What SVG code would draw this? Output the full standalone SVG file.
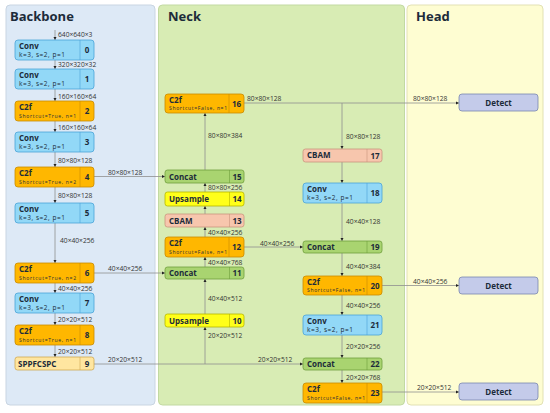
<svg xmlns="http://www.w3.org/2000/svg" width="550" height="413" viewBox="0 0 550 413">
<style>
text{font-family:"Open Sans","Noto Sans","DejaVu Sans",sans-serif;fill:#1c2b3a}
.title{font-size:13px;font-weight:700}
.nm{font-size:8px;font-weight:700}
.sub{font-size:5px}
.sub2{font-size:6.5px}
.idx{font-size:8px;font-weight:700;text-anchor:middle}
.lbl{font-size:6.7px;fill:#333}
.conv{fill:#92d8f7;stroke:#4aa3d8;stroke-width:0.8}
.c2f{fill:#ffb700;stroke:#c98a00;stroke-width:0.8}
.spp{fill:#ffe6a0;stroke:#d0a850;stroke-width:0.8}
.cat{fill:#a9d470;stroke:#6f9e3c;stroke-width:0.8}
.up{fill:#ffff1a;stroke:#b5b500;stroke-width:0.8}
.cbam{fill:#f7c6ad;stroke:#c9957e;stroke-width:0.8}
.det{fill:#c4cbea;stroke:#7a86b0;stroke-width:0.8}
#connectors path{fill:none;stroke:#8f8f8f;stroke-width:0.8;marker-end:url(#ah)}
</style>
<defs>
<marker id="ah" viewBox="0 0 6 6" refX="6" refY="3" markerWidth="3.2" markerHeight="3.2" orient="auto" markerUnits="userSpaceOnUse">
<path d="M0,0 L6,3 L0,6 z" fill="#222"/>
</marker>
</defs>

<g id="panels">
<rect x="6" y="5" width="149" height="400" rx="4" fill="#dde9f6" stroke="#c9d5e2"/>
<text class="title" x="10" y="21">Backbone</text>
<rect x="158.5" y="5" width="246" height="400" rx="4" fill="#d8ecb4" stroke="#c2d9a2"/>
<text class="title" x="168" y="21">Neck</text>
<rect x="407" y="5" width="136" height="400" rx="4" fill="#fefdd2" stroke="#e2e1b4"/>
<text class="title" x="416" y="21">Head</text>
</g>

<g id="connectors">
<path d="M55,30 V40"/>
<path d="M55,60 V69"/>
<path d="M55,89 V101"/>
<path d="M55,121 V132"/>
<path d="M55,152 V167"/>
<path d="M55,187 V203"/>
<path d="M55,223 V263"/>
<path d="M55,283 V293"/>
<path d="M55,313 V325"/>
<path d="M55,345 V357"/>
<path d="M94,176.5 H165"/>
<path d="M94,273 H165"/>
<path d="M94,364 H303"/>
<path d="M205,364 V327"/>
<path d="M205,314 V279"/>
<path d="M205,267 V257"/>
<path d="M205,237 V227"/>
<path d="M205,214 V206"/>
<path d="M205,192 V183"/>
<path d="M205,170 V113"/>
<path d="M244,103 H459"/>
<path d="M342,103 V149"/>
<path d="M342,162 V183"/>
<path d="M342,203 V241"/>
<path d="M244,247 H303"/>
<path d="M342,253 V276"/>
<path d="M382,285.5 H459"/>
<path d="M342,295 V315"/>
<path d="M342,335 V358"/>
<path d="M342,370 V383"/>
<path d="M382,392 H459"/>
</g>

<g id="labels">
<text class="lbl" x="58" y="37">640×640×3</text>
<text class="lbl" x="58" y="67">320×320×32</text>
<text class="lbl" x="58" y="99">160×160×64</text>
<text class="lbl" x="58" y="130">160×160×64</text>
<text class="lbl" x="58" y="163">80×80×128</text>
<text class="lbl" x="58" y="198">80×80×128</text>
<text class="lbl" x="60" y="243">40×40×256</text>
<text class="lbl" x="58" y="291">40×40×256</text>
<text class="lbl" x="58" y="322">20×20×512</text>
<text class="lbl" x="58" y="354">20×20×512</text>
<text class="lbl" x="108" y="174.5">80×80×128</text>
<text class="lbl" x="108" y="271">40×40×256</text>
<text class="lbl" x="108" y="362">20×20×512</text>
<text class="lbl" x="258" y="362">20×20×512</text>
<text class="lbl" x="208" y="138">80×80×384</text>
<text class="lbl" x="208" y="190">80×80×256</text>
<text class="lbl" x="208" y="235">40×40×256</text>
<text class="lbl" x="208" y="265">40×40×768</text>
<text class="lbl" x="208" y="301">40×40×512</text>
<text class="lbl" x="208" y="338">20×20×512</text>
<text class="lbl" x="247" y="101">80×80×128</text>
<text class="lbl" x="260" y="245.5">40×40×256</text>
<text class="lbl" x="346" y="139">80×80×128</text>
<text class="lbl" x="346" y="224">40×40×128</text>
<text class="lbl" x="346" y="269">40×40×384</text>
<text class="lbl" x="346" y="308">40×40×256</text>
<text class="lbl" x="346" y="349">20×20×256</text>
<text class="lbl" x="346" y="380">20×20×768</text>
<text class="lbl" x="413" y="101">80×80×128</text>
<text class="lbl" x="413" y="284">40×40×256</text>
<text class="lbl" x="417" y="390">20×20×512</text>
</g>

<!-- Backbone -->
<g id="n0"><rect class="conv" x="15" y="40" width="79" height="20" rx="3"/><line x1="80" y1="40" x2="80" y2="60" stroke="#4aa3d8" stroke-width="0.6"/><text class="nm" x="19" y="49">Conv</text><text class="sub2" x="19" y="57" textLength="46">k=3, s=2, p=1</text><text class="idx" x="87" y="53">0</text></g>
<g id="n1"><rect class="conv" x="15" y="69" width="79" height="20" rx="3"/><line x1="80" y1="69" x2="80" y2="89" stroke="#4aa3d8" stroke-width="0.6"/><text class="nm" x="19" y="78">Conv</text><text class="sub2" x="19" y="86" textLength="46">k=3, s=2, p=1</text><text class="idx" x="87" y="82">1</text></g>
<g id="n2"><rect class="c2f" x="15" y="101" width="79" height="20" rx="3"/><line x1="80" y1="101" x2="80" y2="121" stroke="#c98a00" stroke-width="0.6"/><text class="nm" x="19" y="110">C2f</text><text class="sub" x="19" y="118" textLength="57">Shortcut=True, n=1</text><text class="idx" x="87" y="114">2</text></g>
<g id="n3"><rect class="conv" x="15" y="132" width="79" height="20" rx="3"/><line x1="80" y1="132" x2="80" y2="152" stroke="#4aa3d8" stroke-width="0.6"/><text class="nm" x="19" y="141">Conv</text><text class="sub2" x="19" y="149" textLength="46">k=3, s=2, p=1</text><text class="idx" x="87" y="145">3</text></g>
<g id="n4"><rect class="c2f" x="15" y="167" width="79" height="20" rx="3"/><line x1="80" y1="167" x2="80" y2="187" stroke="#c98a00" stroke-width="0.6"/><text class="nm" x="19" y="176">C2f</text><text class="sub" x="19" y="184" textLength="57">Shortcut=True, n=2</text><text class="idx" x="87" y="180">4</text></g>
<g id="n5"><rect class="conv" x="15" y="203" width="79" height="20" rx="3"/><line x1="80" y1="203" x2="80" y2="223" stroke="#4aa3d8" stroke-width="0.6"/><text class="nm" x="19" y="212">Conv</text><text class="sub2" x="19" y="220" textLength="46">k=3, s=2, p=1</text><text class="idx" x="87" y="216">5</text></g>
<g id="n6"><rect class="c2f" x="15" y="263" width="79" height="20" rx="3"/><line x1="80" y1="263" x2="80" y2="283" stroke="#c98a00" stroke-width="0.6"/><text class="nm" x="19" y="272">C2f</text><text class="sub" x="19" y="280" textLength="57">Shortcut=True, n=2</text><text class="idx" x="87" y="276">6</text></g>
<g id="n7"><rect class="conv" x="15" y="293" width="79" height="20" rx="3"/><line x1="80" y1="293" x2="80" y2="313" stroke="#4aa3d8" stroke-width="0.6"/><text class="nm" x="19" y="302">Conv</text><text class="sub2" x="19" y="310" textLength="46">k=3, s=2, p=1</text><text class="idx" x="87" y="306">7</text></g>
<g id="n8"><rect class="c2f" x="15" y="325" width="79" height="20" rx="3"/><line x1="80" y1="325" x2="80" y2="345" stroke="#c98a00" stroke-width="0.6"/><text class="nm" x="19" y="334">C2f</text><text class="sub" x="19" y="342" textLength="57">Shortcut=True, n=1</text><text class="idx" x="87" y="338">8</text></g>
<g id="n9"><rect class="spp" x="15" y="357" width="79" height="13" rx="2.5"/><line x1="80" y1="357" x2="80" y2="370" stroke="#d0a850" stroke-width="0.6"/><text class="nm" x="18" y="366.5">SPPFCSPC</text><text class="idx" x="87" y="366.5">9</text></g>

<!-- Neck left -->
<g id="n16"><rect class="c2f" x="165" y="94" width="79" height="19" rx="3"/><line x1="229" y1="94" x2="229" y2="113" stroke="#c98a00" stroke-width="0.6"/><text class="nm" x="169" y="102.5">C2f</text><text class="sub" x="169" y="110" textLength="58">Shortcut=False, n=1</text><text class="idx" x="236.5" y="106.5">16</text></g>
<g id="n15"><rect class="cat" x="165" y="170" width="79" height="13" rx="2.5"/><line x1="229.5" y1="170" x2="229.5" y2="183" stroke="#6f9e3c" stroke-width="0.6"/><text class="nm" x="169" y="179.5">Concat</text><text class="idx" x="237" y="179.5">15</text></g>
<g id="n14"><rect class="up" x="165" y="192" width="79" height="14" rx="2.5"/><line x1="229.5" y1="192" x2="229.5" y2="206" stroke="#b5b500" stroke-width="0.6"/><text class="nm" x="169" y="202">Upsample</text><text class="idx" x="237" y="202">14</text></g>
<g id="n13"><rect class="cbam" x="165" y="214" width="79" height="13" rx="2.5"/><line x1="229.5" y1="214" x2="229.5" y2="227" stroke="#c9957e" stroke-width="0.6"/><text class="nm" x="169" y="223.5">CBAM</text><text class="idx" x="237" y="223.5">13</text></g>
<g id="n12"><rect class="c2f" x="165" y="237" width="79" height="20" rx="3"/><line x1="229" y1="237" x2="229" y2="257" stroke="#c98a00" stroke-width="0.6"/><text class="nm" x="169" y="246">C2f</text><text class="sub" x="169" y="254" textLength="58">Shortcut=False, n=1</text><text class="idx" x="236.5" y="250">12</text></g>
<g id="n11"><rect class="cat" x="165" y="267" width="79" height="12" rx="2.5"/><line x1="229.5" y1="267" x2="229.5" y2="279" stroke="#6f9e3c" stroke-width="0.6"/><text class="nm" x="169" y="276">Concat</text><text class="idx" x="237" y="276">11</text></g>
<g id="n10"><rect class="up" x="165" y="314" width="79" height="13" rx="2.5"/><line x1="229.5" y1="314" x2="229.5" y2="327" stroke="#b5b500" stroke-width="0.6"/><text class="nm" x="169" y="323.5">Upsample</text><text class="idx" x="237" y="323.5">10</text></g>

<!-- Neck right -->
<g id="n17"><rect class="cbam" x="303" y="149" width="79" height="13" rx="2.5"/><line x1="367" y1="149" x2="367" y2="162" stroke="#c9957e" stroke-width="0.6"/><text class="nm" x="307" y="158">CBAM</text><text class="idx" x="375" y="158.5">17</text></g>
<g id="n18"><rect class="conv" x="303" y="183" width="79" height="20" rx="3"/><line x1="367" y1="183" x2="367" y2="203" stroke="#4aa3d8" stroke-width="0.6"/><text class="nm" x="307" y="192">Conv</text><text class="sub2" x="307" y="200" textLength="46">k=3, s=2, p=1</text><text class="idx" x="375" y="196">18</text></g>
<g id="n19"><rect class="cat" x="303" y="241" width="79" height="12" rx="2.5"/><line x1="367" y1="241" x2="367" y2="253" stroke="#6f9e3c" stroke-width="0.6"/><text class="nm" x="307" y="250">Concat</text><text class="idx" x="375" y="250">19</text></g>
<g id="n20"><rect class="c2f" x="303" y="276" width="79" height="19" rx="3"/><line x1="367" y1="276" x2="367" y2="295" stroke="#c98a00" stroke-width="0.6"/><text class="nm" x="307" y="284.5">C2f</text><text class="sub" x="307" y="292" textLength="58">Shortcut=False, n=1</text><text class="idx" x="375" y="288.5">20</text></g>
<g id="n21"><rect class="conv" x="303" y="315" width="79" height="20" rx="3"/><line x1="367" y1="315" x2="367" y2="335" stroke="#4aa3d8" stroke-width="0.6"/><text class="nm" x="307" y="324">Conv</text><text class="sub2" x="307" y="332" textLength="46">k=3, s=2, p=1</text><text class="idx" x="375" y="328">21</text></g>
<g id="n22"><rect class="cat" x="303" y="358" width="79" height="12" rx="2.5"/><line x1="367" y1="358" x2="367" y2="370" stroke="#6f9e3c" stroke-width="0.6"/><text class="nm" x="307" y="367">Concat</text><text class="idx" x="375" y="367">22</text></g>
<g id="n23"><rect class="c2f" x="303" y="383" width="79" height="20" rx="3"/><line x1="367" y1="383" x2="367" y2="403" stroke="#c98a00" stroke-width="0.6"/><text class="nm" x="307" y="392">C2f</text><text class="sub" x="307" y="400" textLength="58">Shortcut=False, n=1</text><text class="idx" x="375" y="396">23</text></g>

<!-- Head -->
<g id="d1"><rect class="det" x="459" y="94" width="79" height="17" rx="3"/><text class="nm" x="498.5" y="105.5" text-anchor="middle">Detect</text></g>
<g id="d2"><rect class="det" x="459" y="277" width="79" height="17" rx="3"/><text class="nm" x="498.5" y="288.5" text-anchor="middle">Detect</text></g>
<g id="d3"><rect class="det" x="459" y="383" width="79" height="17" rx="3"/><text class="nm" x="498.5" y="394.5" text-anchor="middle">Detect</text></g>
</svg>
